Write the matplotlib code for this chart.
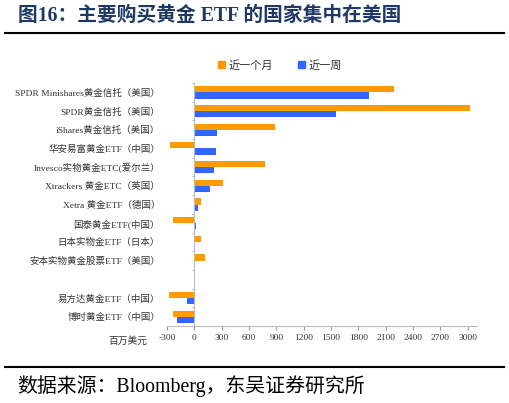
import numpy as np
import matplotlib.pyplot as plt
from matplotlib.lines import Line2D
from matplotlib.patches import Patch

plt.rcParams['font.family'] = ['Liberation Serif', 'Noto Sans CJK SC', 'DejaVu Sans']

# data (million USD)
funds = ['SPDR Minishares黄金信托（美国）', 'SPDR黄金信托（美国）', 'iShares黄金信托（美国）',
         '华安易富黄金ETF（中国）', 'Invesco实物黄金ETC(爱尔兰）', 'Xtrackers 黄金ETC（英国）',
         'Xetra 黄金ETF（德国）', '国泰黄金ETF(中国）', '日本实物金ETF（日本）',
         '安本实物黄金股票ETF（美国）', '', '易方达黄金ETF（中国）', '博时黄金ETF（中国）']
month = [2190, 3020, 890, -265, 770, 310, 75, -230, 70, 112, 0, -275, -235]
week = [1915, 1550, 245, 237, 215, 168, 40, 20, 0, 0, 0, -78, -195]
xticks = list(range(-300, 3001, 300))

fig = plt.figure(figsize=(5.09, 4.03), dpi=100)
ax = fig.add_axes([0.328, 0.191, 0.609, 0.603])

n = len(funds)
y = np.arange(n)
h = 0.33
ax.barh(y - h / 2, month, height=h, color='#FF9900', label='近一个月')
ax.barh(y + h / 2, week, height=h, color='#3366FF', label='近一周')

ax.set_ylim(n - 0.5, -0.5)
ax.set_xlim(-300, 3100)
ax.set_yticks(y)
ax.set_yticklabels(funds, fontsize=6.8, color='#333333')
ax.tick_params(axis='y', length=0, pad=5)
ax.set_xticks(xticks)
ax.set_xticklabels([str(v) for v in xticks], fontsize=6.8, color='#333333')
ax.tick_params(axis='x', length=3, color='#999999', pad=3)

for s in ['left', 'right', 'top']:
    ax.spines[s].set_visible(False)
ax.spines['bottom'].set_color('#BBBBBB')
ax.axvline(0, color='#BBBBBB', lw=0.8)
ax.hlines(np.arange(n + 1) - 0.5, -25, 0, color='#BBBBBB', lw=0.8)

ax.text(-0.125, -0.06, '百万美元', transform=ax.transAxes, fontsize=7,
        color='#333333', ha='center', va='center')

leg = fig.legend(handles=[Patch(color='#FF9900', label='近一个月'),
                          Patch(color='#3366FF', label='近一周')],
                 loc='center', bbox_to_anchor=(0.55, 0.838), ncol=2, frameon=False,
                 fontsize=8, handlelength=0.6, handleheight=0.6, handletextpad=0.3,
                 columnspacing=2.3)
for t in leg.get_texts():
    t.set_color('#333333')

fig.text(0.035, 0.961, '图16：主要购买黄金 ETF 的国家集中在美国', fontsize=14.2,
         fontweight='bold', color='#1F3864', ha='left', va='center')
fig.add_artist(Line2D([0.01, 0.99], [0.918, 0.918], color='black', lw=1.5))
fig.add_artist(Line2D([0.01, 0.99], [0.089, 0.089], color='black', lw=1.5))
fig.text(0.033, 0.042, '数据来源：Bloomberg，东吴证券研究所', fontsize=14.3,
         color='black', ha='left', va='center')

fig.savefig('out.png', dpi=100)
